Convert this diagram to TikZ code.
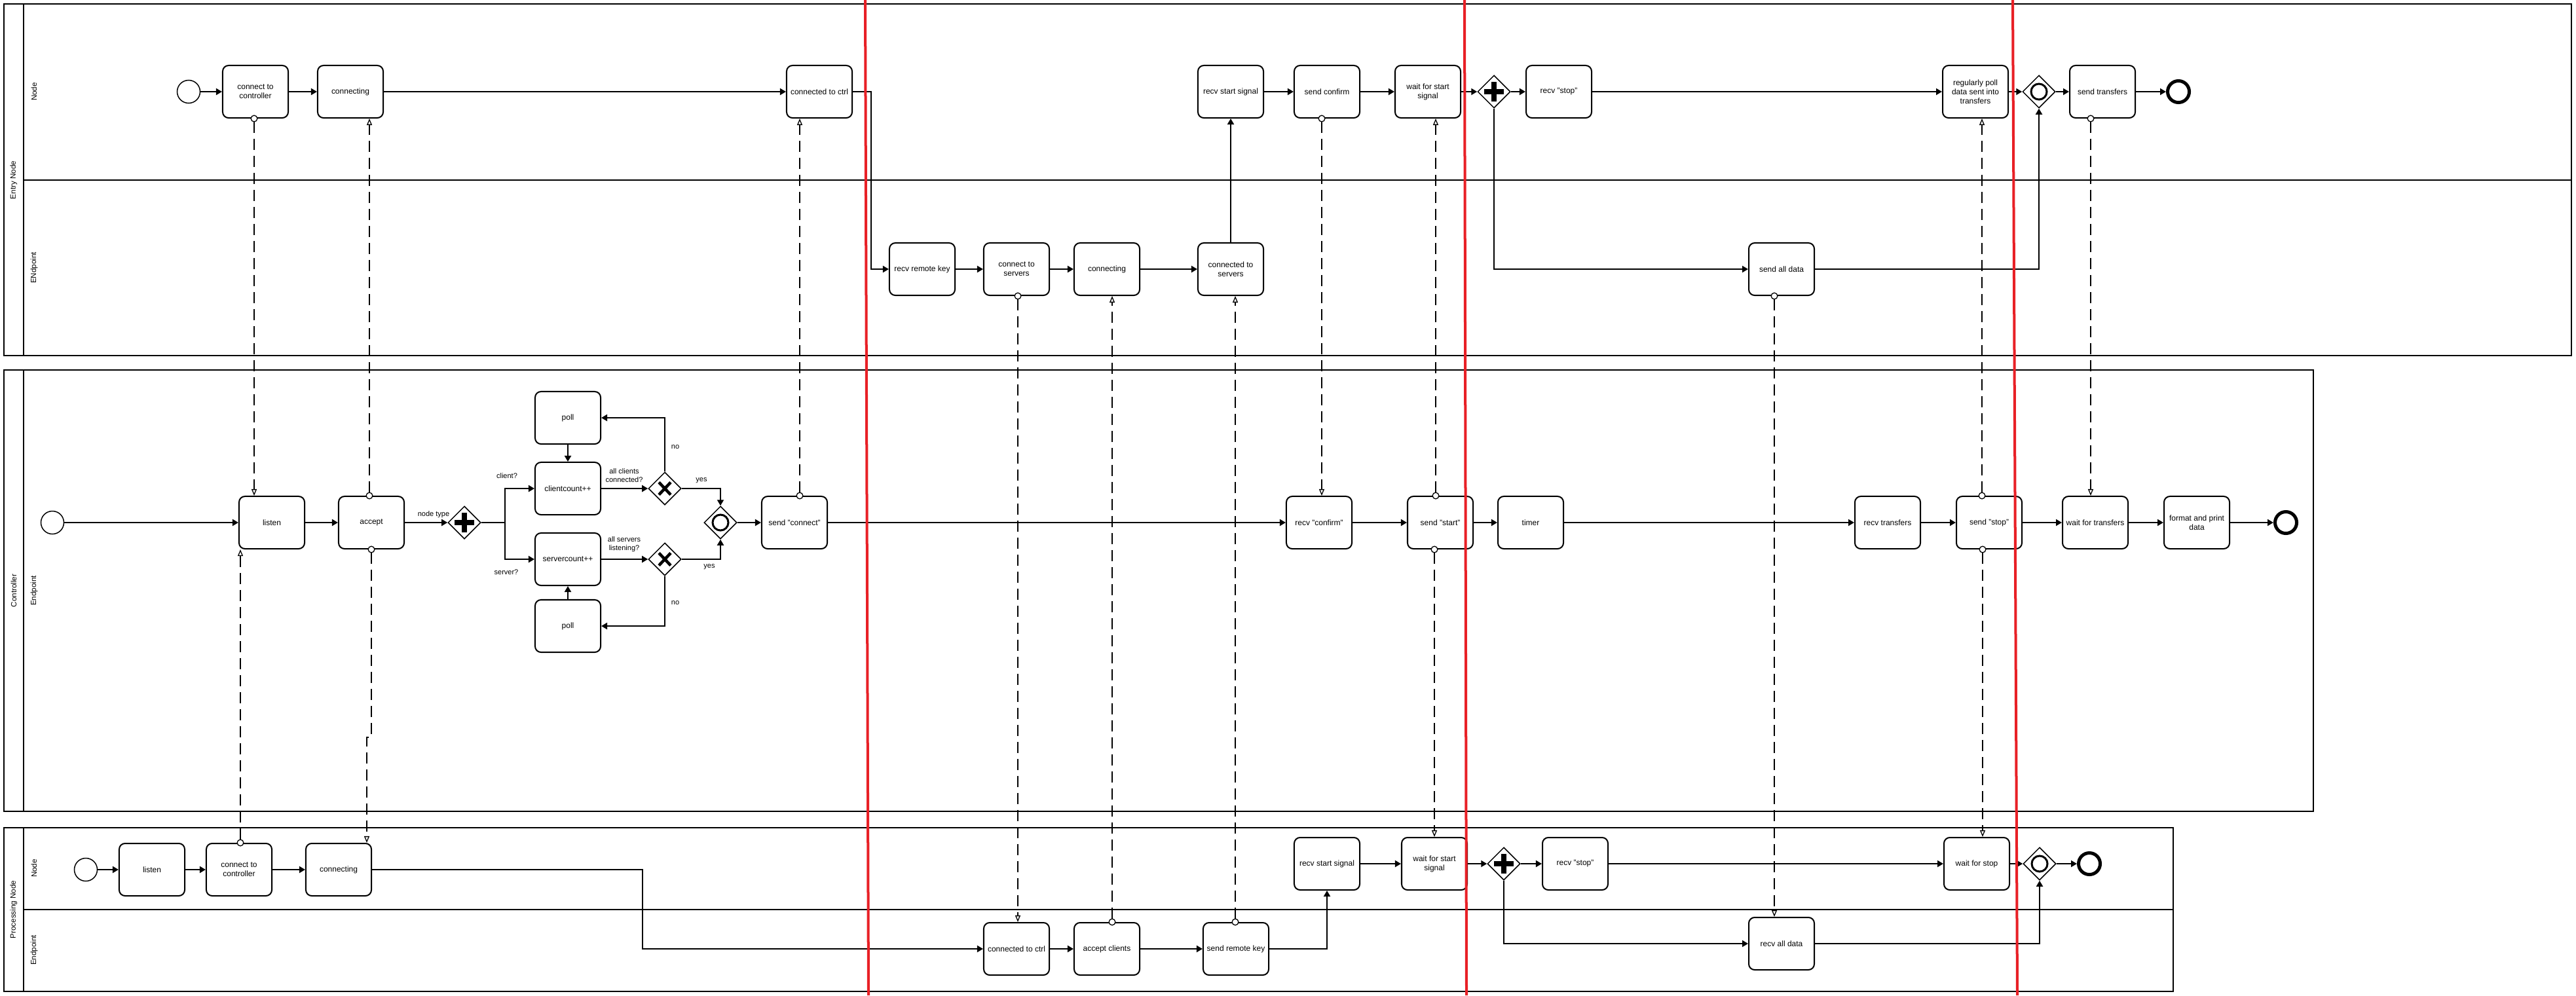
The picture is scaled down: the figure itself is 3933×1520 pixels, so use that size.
\documentclass[tikz,border=0pt]{standalone}
\usepackage{fontspec}
\setmainfont{Liberation Sans}
\usetikzlibrary{arrows.meta,calc,shapes.geometric}
\newcommand\tasktext{\fontsize{3.41}{3.98}\selectfont}
\newcommand\lbltext{\fontsize{3.13}{3.7}\selectfont}
\newcommand\lanetext{\fontsize{3.3}{4}\selectfont}
\def\gwplus(#1){\draw[line width=0.075cm] ($(#1)+(-15,0)$) -- ($(#1)+(15,0)$) ($(#1)+(0,-15)$) -- ($(#1)+(0,15)$);}
\def\gwcross(#1){\draw[line width=0.045cm] ($(#1)+(-9,-9.5)$) -- ($(#1)+(9,9.5)$) ($(#1)+(-9,9.5)$) -- ($(#1)+(9,-9.5)$);}
\def\gwcirc(#1){\draw[line width=0.03cm] (#1) circle (0.12cm);}
\definecolor{penred}{RGB}{232,32,38}
\tikzset{
  task/.style={draw, line width=0.02cm, rounded corners=0.09cm, fill=white, minimum width=1cm, minimum height=0.8cm, inner sep=0pt, align=center, font=\tasktext},
  gateway/.style={draw, diamond, aspect=1, minimum size=0.5cm, inner sep=0pt, line width=0.015cm, fill=white},
  startev/.style={draw, circle, line width=0.015cm, minimum size=0.35cm, inner sep=0pt, fill=white},
  endev/.style={draw, circle, line width=0.05cm, minimum size=0.33cm, inner sep=0pt, fill=white},
  flow/.style={line width=0.02cm, -{Triangle[length=0.09cm,width=0.1cm]}},
  msg/.style={line width=0.013cm, dash pattern=on 0.17cm off 0.09cm, {Circle[length=0.11cm,fill=white]}-{Triangle[length=0.1cm,width=0.08cm,fill=white]}, shorten <=-0.055cm},
  lbl/.style={font=\lbltext, inner sep=0pt, align=center},
  lane/.style={font=\lanetext, rotate=90, inner sep=0pt},
  pool/.style={line width=0.02cm},
  redline/.style={penred, line width=0.04cm},
}

\begin{document}
\begin{tikzpicture}[x=0.01cm, y=-0.01cm]
		%%%%% START %%%%%
		\fill[white] (0,0) rectangle (3933,1520);
		\useasboundingbox (0,0) rectangle (3933,1520);
		
		% pools and lanes
		\draw[pool] (6,6) rectangle (3926,543);
		\draw[pool] (36,6) -- (36,543);
		\draw[pool] (36,275) -- (3926,275);
		\draw[pool] (6,565) rectangle (3532,1239);
		\draw[pool] (36,565) -- (36,1239);
		\draw[pool] (6,1264) rectangle (3318,1514);
		\draw[pool] (36,1264) -- (36,1514);
		\draw[pool] (36,1389) -- (3318,1389);
		
		\node[lane] (lentry) at (21,275) {Entry Node};
		\node[lane] (lenode) at (52,140) {Node};
		\node[lane] (leep) at (52,409) {ENdpoint};
		\node[lane] (lctrl) at (21,902) {Controller};
		\node[lane] (lcep) at (52,902) {Endpoint};
		\node[lane] (lproc) at (21,1389) {Processing Node};
		\node[lane] (lpnode) at (52,1326) {Node};
		\node[lane] (lpep) at (52,1451) {Endpoint};
		
		% entry node
		\node[startev] (est) at (288,140) {};
		\node[task] (ectc) at (390,140) {connect to\\controller};
		\node[task] (ecng) at (535,140) {connecting};
		\node[task] (ectd) at (1251,140) {connected to ctrl};
		\node[task] (erss) at (1879,140) {recv start signal};
		\node[task] (escf) at (2026,140) {send confirm};
		\node[task] (ewss) at (2180,140) {wait for start\\signal};
		\node[gateway] (egw1) at (2281,140) {};
		\node[task] (erst) at (2380,140) {recv "stop"};
		\node[task] (erpd) at (3016,140) {regularly poll\\data sent into\\transfers};
		\node[gateway] (egw2) at (3113,140) {};
		\node[task] (estr) at (3210,140) {send transfers};
		\node[endev] (eend) at (3326,140) {};
		\node[task] (erk) at (1408,411) {recv remote key};
		\node[task] (ects) at (1552,411) {connect to\\servers};
		\node[task] (ecn2) at (1690,411) {connecting};
		\node[task] (ecsv) at (1879,411) {connected to\\servers};
		\node[task] (esad) at (2720,411) {send all data};
		\gwplus(egw1)
		\gwcirc(egw2)
		\coordinate (ebend) at (1330,140);
		
		\draw[flow] (est) -- (ectc);
		\draw[flow] (ectc) -- (ecng);
		\draw[flow] (ecng) -- (ectd);
		\draw[flow] (ectd) -- (ebend) |- (erk);
		\draw[flow] (erk) -- (ects);
		\draw[flow] (ects) -- (ecn2);
		\draw[flow] (ecn2) -- (ecsv);
		\draw[flow] (ecsv) -- (erss);
		\draw[flow] (erss) -- (escf);
		\draw[flow] (escf) -- (ewss);
		\draw[flow] (ewss) -- (egw1);
		\draw[flow] (egw1) -- (erst);
		\draw[flow] (erst) -- (erpd);
		\draw[flow] (erpd) -- (egw2);
		\draw[flow] (egw2) -- (estr);
		\draw[flow] (estr) -- (eend);
		\draw[flow] (egw1.south) |- (esad);
		\draw[flow] (esad) -| (egw2.south);
		
		% controller
		\node[startev] (cst) at (80,798) {};
		\node[task] (clis) at (415,798) {listen};
		\node[task] (cacc) at (567,798) {accept};
		\node[gateway] (cgw1) at (709,798) {};
		\node[task] (ccc) at (867,746) {clientcount++};
		\node[task] (csc) at (867,854) {servercount++};
		\node[task] (cpl1) at (867,638) {poll};
		\node[task] (cpl2) at (867,956) {poll};
		\node[gateway] (cx1) at (1015,746) {};
		\node[gateway] (cx2) at (1015,854) {};
		\node[gateway] (cgw2) at (1100,798) {};
		\node[task] (ccon) at (1213,798) {send "connect"};
		\node[task] (crcf) at (2014,798) {recv "confirm"};
		\node[task] (cstt) at (2199,798) {send "start"};
		\node[task] (ctim) at (2337,798) {timer};
		\node[task] (crtr) at (2882,798) {recv transfers};
		\node[task] (cstp) at (3037,798) {send "stop"};
		\node[task] (cwtr) at (3199,798) {wait for transfers};
		\node[task] (cfmt) at (3354,798) {format and print\\data};
		\node[endev] (cend) at (3490,798) {};
		\gwplus(cgw1)
		\gwcross(cx1)
		\gwcross(cx2)
		\gwcirc(cgw2)
		\coordinate (csplit) at (771,798);
		
		\node[lbl] (lnt) at (662,786) {node type};
		\node[lbl] (lcli) at (774,727) {client?};
		\node[lbl] (lsrv) at (773,874) {server?};
		\node[lbl] (lacc) at (953,726) {all clients\\connected?};
		\node[lbl] (lasl) at (953,831) {all servers\\listening?};
		\node[lbl] (lno1) at (1031,683) {no};
		\node[lbl] (lno2) at (1031,921) {no};
		\node[lbl] (lye1) at (1071,734) {yes};
		\node[lbl] (lye2) at (1083,866) {yes};
		
		\draw[flow] (cst) -- (clis);
		\draw[flow] (clis) -- (cacc);
		\draw[flow] (cacc) -- (cgw1);
		\draw[line width=0.02cm] (cgw1) -- (csplit);
		\draw[flow] (csplit) |- (ccc);
		\draw[flow] (csplit) |- (csc);
		\draw[flow] (ccc) -- (cx1);
		\draw[flow] (csc) -- (cx2);
		\draw[flow] (cx1.north) |- (cpl1);
		\draw[flow] (cx2.south) |- (cpl2);
		\draw[flow] (cpl1) -- (ccc);
		\draw[flow] (cpl2) -- (csc);
		\draw[flow] (cx1.east) -| (cgw2.north);
		\draw[flow] (cx2.east) -| (cgw2.south);
		\draw[flow] (cgw2) -- (ccon);
		\draw[flow] (ccon) -- (crcf);
		\draw[flow] (crcf) -- (cstt);
		\draw[flow] (cstt) -- (ctim);
		\draw[flow] (ctim) -- (crtr);
		\draw[flow] (crtr) -- (cstp);
		\draw[flow] (cstp) -- (cwtr);
		\draw[flow] (cwtr) -- (cfmt);
		\draw[flow] (cfmt) -- (cend);
		
		% processing node
		\node[startev] (pst) at (131,1328) {};
		\node[task] (plis) at (232,1328) {listen};
		\node[task] (pctc) at (365,1328) {connect to\\controller};
		\node[task] (pcng) at (517,1328) {connecting};
		\node[task] (prss) at (2026,1319) {recv start signal};
		\node[task] (pwss) at (2190,1319) {wait for start\\signal};
		\node[gateway] (pgw1) at (2296,1319) {};
		\node[task] (prst) at (2405,1319) {recv "stop"};
		\node[task] (pwsp) at (3018,1319) {wait for stop};
		\node[gateway] (pgw2) at (3114,1319) {};
		\node[endev] (pend) at (3190,1319) {};
		\node[task] (pctd) at (1552,1449) {connected to ctrl};
		\node[task] (pacc) at (1690,1449) {accept clients};
		\node[task] (psrk) at (1887,1449) {send remote key};
		\node[task] (prad) at (2720,1441) {recv all data};
		\gwplus(pgw1)
		\gwcirc(pgw2)
		\coordinate (pbend) at (981,1328);
		
		\draw[flow] (pst) -- (plis);
		\draw[flow] (plis) -- (pctc);
		\draw[flow] (pctc) -- (pcng);
		\draw[flow] (pcng) -- (pbend) |- (pctd);
		\draw[flow] (pctd) -- (pacc);
		\draw[flow] (pacc) -- (psrk);
		\draw[flow] (psrk) -| (prss);
		\draw[flow] (prss) -- (pwss);
		\draw[flow] (pwss) -- (pgw1);
		\draw[flow] (pgw1) -- (prst);
		\draw[flow] (prst) -- (pwsp);
		\draw[flow] (pwsp) -- (pgw2);
		\draw[flow] (pgw2) -- (pend);
		\draw[flow] (pgw1.south) |- (prad);
		\draw[flow] (prad) -| (pgw2.south);
		
		% message flows
		\coordinate (mx1) at (388,0);
		\coordinate (mx2) at (564,0);
		\coordinate (mx3) at (1221,0);
		\coordinate (mx4) at (367,0);
		\coordinate (mj5a) at (567,1126);
		\coordinate (mj5b) at (560,1126);
		\coordinate (mx6) at (1554,0);
		\coordinate (mx7) at (1698,0);
		\coordinate (mx8) at (1886,0);
		\coordinate (mx9) at (2018,0);
		\coordinate (mx10) at (2192,0);
		\coordinate (mx11) at (2190,0);
		\coordinate (mx12) at (2709,0);
		\coordinate (mx13) at (3026,0);
		\coordinate (mx14) at (3027,0);
		\coordinate (mx15) at (3192,0);
		\draw[msg] (ectc.south -| mx1) -- (clis.north -| mx1);
		\draw[msg] (cacc.north -| mx2) -- (ecng.south -| mx2);
		\draw[msg] (ccon.north -| mx3) -- (ectd.south -| mx3);
		\draw[msg] (pctc.north -| mx4) -- (clis.south -| mx4);
		\draw[msg] (cacc.south -| mj5a) -- (mj5a) -- (mj5b) -- (pcng.north -| mj5b);
		\draw[msg] (ects.south -| mx6) -- (pctd.north -| mx6);
		\draw[msg] (pacc.north -| mx7) -- (ecn2.south -| mx7);
		\draw[msg] (psrk.north -| mx8) -- (ecsv.south -| mx8);
		\draw[msg] (escf.south -| mx9) -- (crcf.north -| mx9);
		\draw[msg] (cstt.north -| mx10) -- (ewss.south -| mx10);
		\draw[msg] (cstt.south -| mx11) -- (pwss.north -| mx11);
		\draw[msg] (esad.south -| mx12) -- (prad.north -| mx12);
		\draw[msg] (cstp.north -| mx13) -- (erpd.south -| mx13);
		\draw[msg] (cstp.south -| mx14) -- (pwsp.north -| mx14);
		\draw[msg] (estr.south -| mx15) -- (cwtr.north -| mx15);
		
		% red marker lines
		\draw[redline] (1321,0) -- (1326,1520);
		\draw[redline] (2236,0) -- (2239,1520);
		\draw[redline] (3073,0) -- (3080,1520);
		%%%%% END %%%%%
\end{tikzpicture}
\end{document}
